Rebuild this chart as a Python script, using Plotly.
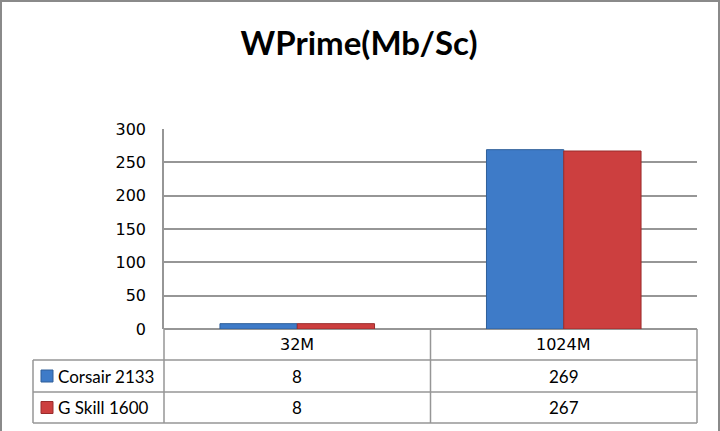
import plotly.graph_objects as go

categories = ["32M", "1024M"]
series_names = ["Corsair 2133", "G Skill 1600"]
corsair = [8, 269]
gskill = [8, 267]
y_ticks = [0, 50, 100, 150, 200, 250, 300]
title = "WPrime(Mb/Sc)"

colors = ["#3e7bc8", "#cc3f3f"]
edge = ["#2f5f99", "#9a2c2c"]

W, H = 720, 431
L, R, T, B = 164, 697, 129, 329  # plot area pixels


def px(x):
    return (x - L) / (R - L)


def py(y):
    return (B - y) / (B - T)


fig = go.Figure()
for name, vals, c, e in zip(series_names, [corsair, gskill], colors, edge):
    fig.add_trace(go.Bar(x=categories, y=vals, name=name,
                         marker=dict(color=c, line=dict(color=e, width=1))))

grid = "#969696"
shapes = []
# outer frame
shapes.append(dict(type="rect", xref="paper", yref="paper",
                   x0=px(1), x1=px(719), y0=py(1), y1=py(440),
                   line=dict(color="#8a8a8a", width=2), layer="below"))
# table lines
tl = dict(color=grid, width=1.5)
row_y = [360, 392, 423]
for yy in row_y:
    shapes.append(dict(type="line", xref="paper", yref="paper", x0=px(33), x1=1,
                       y0=py(yy), y1=py(yy), line=tl))
shapes.append(dict(type="line", xref="paper", yref="paper", x0=px(33), x1=px(33),
                   y0=py(360), y1=py(423), line=tl))
shapes.append(dict(type="line", xref="paper", yref="paper", x0=0, x1=0,
                   y0=py(B), y1=py(423), line=tl))
shapes.append(dict(type="line", xref="x", yref="paper", x0=0.5, x1=0.5,
                   y0=py(B), y1=py(423), line=tl))
shapes.append(dict(type="line", xref="paper", yref="paper", x0=1, x1=1,
                   y0=py(B), y1=py(423), line=tl))

annotations = []
cell_font = dict(family="Lato, Carlito, 'Noto Sans', sans-serif", size=17, color="#000")
# header row category labels
for cat in categories:
    annotations.append(dict(x=cat, y=py((B + 360) / 2), xref="x", yref="paper",
                            xanchor="center", yanchor="middle",
                            text=cat, showarrow=False,
                            font=dict(family="'DejaVu Sans', Verdana, sans-serif", size=16, color="#000")))
# data rows
for i, (name, vals) in enumerate(zip(series_names, [corsair, gskill])):
    top = row_y[i]
    bot = row_y[i + 1]
    mid = (top + bot) / 2
    yc = py(mid)
    shapes.append(dict(type="rect", xref="paper", yref="paper",
                       x0=px(41), x1=px(53), y0=py(mid - 6), y1=py(mid + 6),
                       fillcolor=colors[i], line=dict(color=edge[i], width=1)))
    annotations.append(dict(x=px(56), y=yc, xref="paper", yref="paper",
                            xanchor="left", yanchor="middle",
                            text=name, showarrow=False, font=cell_font))
    for cat, v in zip(categories, vals):
        annotations.append(dict(x=cat, y=yc, xref="x", yref="paper", text=str(v),
                                xanchor="center", yanchor="middle",
                                showarrow=False, font=cell_font))

fig.update_layout(
    width=W, height=H,
    margin=dict(l=L, r=W - R, t=T, b=H - B, pad=0),
    paper_bgcolor="white", plot_bgcolor="white",
    showlegend=False,
    barmode="group", bargap=0.42, bargroupgap=0,
    title=dict(text="<b>" + title + "</b>", xref="container", x=359 / W, xanchor="center",
               yref="container", y=1 - 43 / H, yanchor="middle",
               font=dict(family="Lato, Carlito, 'Noto Sans', sans-serif", size=33, color="#000")),
    xaxis=dict(showticklabels=False, showgrid=False, showline=False, zeroline=False),
    yaxis=dict(range=[0, 300], tickvals=y_ticks, showgrid=True, gridcolor=grid, gridwidth=1.5,
               showline=True, linecolor=grid, linewidth=1.5, zeroline=True, zerolinecolor=grid,
               zerolinewidth=1.5, ticks="", ticklabelstandoff=13,
               tickfont=dict(family="'DejaVu Sans', Verdana, sans-serif", size=16, color="#000")),
    shapes=shapes, annotations=annotations,
)

fig.write_html("out.html", config={"displayModeBar": False},
               post_script="document.body.style.margin='0';document.body.style.overflow='hidden';")
